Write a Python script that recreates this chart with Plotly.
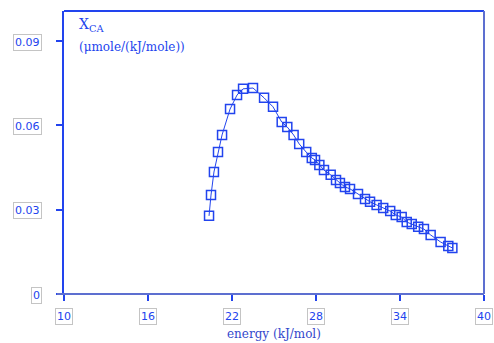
import plotly.graph_objects as go

# Carbonic-anhydrase fraction vs. binding energy
energy = [20.36, 20.5, 20.71, 21.0, 21.29, 21.86, 22.36, 22.79, 23.5, 24.29,
          24.93, 25.55, 25.95, 26.4, 26.8, 27.3, 27.7, 27.93, 28.24, 28.57,
          29.05, 29.43, 29.71, 30.07, 30.43, 31.0, 31.5, 31.86, 32.33, 32.8,
          33.3, 33.7, 34.12, 34.48, 34.84, 35.3, 35.71, 36.19, 36.9, 37.45, 37.74]
x_ca = [0.0278, 0.0352, 0.0434, 0.0505, 0.0566, 0.0658, 0.0708, 0.0730, 0.0733, 0.0698,
        0.0666, 0.0612, 0.0594, 0.0566, 0.0534, 0.0505, 0.0484, 0.0477, 0.0459, 0.0441,
        0.0424, 0.0406, 0.0395, 0.0381, 0.0374, 0.0356, 0.0338, 0.0328, 0.0317, 0.0306,
        0.0295, 0.0281, 0.0274, 0.0256, 0.0249, 0.0239, 0.0231, 0.0210, 0.0185, 0.0171, 0.0164]

x_ticks = [10, 16, 22, 28, 34, 40]
y_ticks = [0, 0.03, 0.06, 0.09]
y_tick_text = ["0", "0.03", "0.06", "0.09"]

BLUE = "#2244ee"
AXIS_GREY = "#5d6fd0"
BOX = "#c4c4c4"

fig = go.Figure()
fig.add_trace(go.Scatter(
    x=energy, y=x_ca, mode="lines+markers",
    line=dict(color=BLUE, width=1),
    marker=dict(symbol="square-open", size=9, color=BLUE, line=dict(width=1.5, color=BLUE)),
    showlegend=False,
))

annotations = []
for t in x_ticks:
    annotations.append(dict(
        x=t, y=0, xref="x", yref="y", text=str(t), showarrow=False,
        xanchor="center", yanchor="middle", yshift=-22,
        font=dict(family="DejaVu Sans", size=11, color=BLUE),
        bordercolor=BOX, borderwidth=1, borderpad=1, bgcolor="white",
    ))
for v, s in zip(y_ticks, y_tick_text):
    annotations.append(dict(
        x=0, y=v, xref="paper", yref="y", text=s, showarrow=False,
        xanchor="right", yanchor="middle", xshift=-22, yshift=-1,
        font=dict(family="DejaVu Sans", size=11, color=BLUE),
        bordercolor=BOX, borderwidth=1, borderpad=1, bgcolor="white",
    ))
annotations.append(dict(
    x=0.03, y=0.99, xref="paper", yref="paper", xanchor="left", yanchor="top",
    text="X<sub>CA</sub>", showarrow=False,
    font=dict(family="DejaVu Serif", size=14, color=BLUE),
))
annotations.append(dict(
    x=0.03, y=0.905, xref="paper", yref="paper", xanchor="left", yanchor="top",
    text="(μmole/(kJ/mole))", showarrow=False,
    font=dict(family="DejaVu Serif", size=12, color=BLUE),
))
annotations.append(dict(
    x=0.5, y=-0.11, xref="paper", yref="paper", xanchor="center", yanchor="top",
    text="energy (kJ/mol)", showarrow=False,
    font=dict(family="DejaVu Serif", size=12, color="#3348cc"),
))

shapes = [
    # frame: top and right edges
    dict(type="line", xref="paper", yref="paper", x0=0, x1=1, y0=1, y1=1,
         line=dict(color=BLUE, width=2)),
    dict(type="line", xref="paper", yref="paper", x0=1, x1=1, y0=0, y1=1,
         line=dict(color=AXIS_GREY, width=2)),
    # x axis baseline, extending slightly past the y axis
    dict(type="line", xref="paper", yref="paper", x0=-0.017, x1=1, y0=0, y1=0,
         line=dict(color=AXIS_GREY, width=2)),
]

fig.update_layout(
    width=494, height=343,
    margin=dict(l=64, r=10, t=11, b=49),
    paper_bgcolor="white", plot_bgcolor="white",
    annotations=annotations, shapes=shapes,
    xaxis=dict(range=[10, 40], tickvals=x_ticks, showticklabels=False,
               ticks="outside", ticklen=6, tickcolor=BLUE, tickwidth=1.5,
               showgrid=False, zeroline=False, showline=False),
    yaxis=dict(range=[0, 0.1007], tickvals=y_ticks, showticklabels=False,
               ticks="outside", ticklen=6, tickcolor=BLUE, tickwidth=1.5,
               showgrid=False, zeroline=False, showline=True,
               linecolor=BLUE, linewidth=2),
)

fig.write_html("out.html")
